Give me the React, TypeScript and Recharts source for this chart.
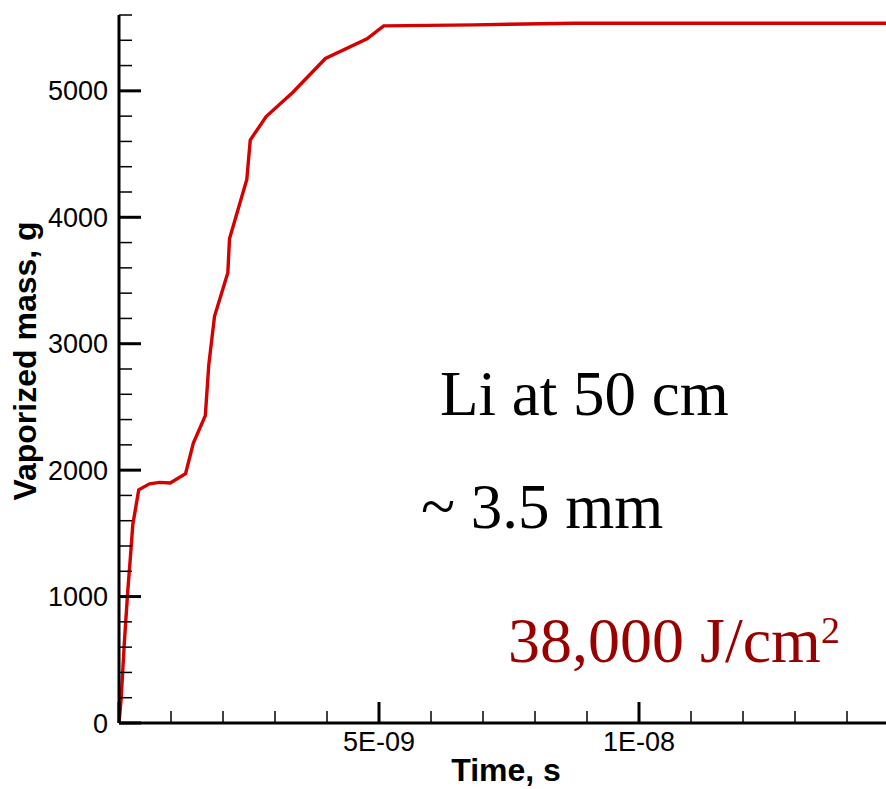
import { LineChart, Line, XAxis, YAxis } from "recharts";

// time (s) and vaporized mass (g)
const timeS = [
  0, 4e-11, 1.06e-10, 1.7e-10, 2.2e-10, 2.65e-10, 3.8e-10, 5.87e-10, 7.8e-10,
  9.85e-10, 1.28e-9, 1.43e-9, 1.66e-9, 1.727e-9, 1.837e-9, 2.093e-9, 2.125e-9,
  2.458e-9, 2.524e-9, 2.83e-9, 3.34e-9, 3.97e-9, 4.77e-9, 5.09e-9, 6.84e-9,
  8.76e-9, 1.149e-8, 1.475e-8,
];
const massG = [
  0, 182, 657, 1053, 1314, 1568, 1845, 1892, 1903, 1898, 1972, 2215, 2431,
  2835, 3217, 3561, 3830, 4299, 4611, 4797, 4987, 5256, 5411, 5514, 5522, 5535,
  5535, 5535,
];

const xTicks = [
  0, 1e-9, 2e-9, 3e-9, 4e-9, 5e-9, 6e-9, 7e-9, 8e-9, 9e-9, 1e-8, 1.1e-8,
  1.2e-8, 1.3e-8, 1.4e-8,
];
const xMajorTicks = [0, 5e-9, 1e-8];
const xMajorLabels = ["", "5E-09", "1E-08"];

const yTicks = [
  0, 200, 400, 600, 800, 1000, 1200, 1400, 1600, 1800, 2000, 2200, 2400, 2600,
  2800, 3000, 3200, 3400, 3600, 3800, 4000, 4200, 4400, 4600, 4800, 5000, 5200,
  5400, 5600,
];
const yMajorTicks = [0, 1000, 2000, 3000, 4000, 5000];
const yMajorLabels = ["0", "1000", "2000", "3000", "4000", "5000"];

const data = timeS.map((t, i) => ({ t, m: massG[i] }));

const sans = '"Liberation Sans", Arial, sans-serif';
const serif = '"Liberation Serif", "Times New Roman", serif';

const XTick = (props: any) => {
  const { x, y, payload } = props;
  const idx = xMajorTicks.findIndex((v) => Math.abs(v - payload.value) < 1e-13);
  const major = idx >= 0;
  return (
    <g>
      <line
        x1={x}
        x2={x}
        y1={y}
        y2={y - (major ? 21 : 12)}
        stroke="#000"
        strokeWidth={major ? 3 : 1.5}
      />
      {major && xMajorLabels[idx] && (
        <text x={x} y={y + 28} textAnchor="middle" fontFamily={sans} fontSize={27} fill="#000">
          {xMajorLabels[idx]}
        </text>
      )}
    </g>
  );
};

const YTick = (props: any) => {
  const { x, y, payload } = props;
  const idx = yMajorTicks.indexOf(payload.value);
  const major = idx >= 0;
  return (
    <g>
      <line
        x1={x}
        x2={x + (major ? 22 : 13)}
        y1={y}
        y2={y}
        stroke="#000"
        strokeWidth={major ? 3 : 1.5}
      />
      {major && (
        <text x={x - 11} y={y + 9.5} textAnchor="end" fontFamily={sans} fontSize={27} fill="#000">
          {yMajorLabels[idx]}
        </text>
      )}
    </g>
  );
};

export default function App() {
  return (
    <div style={{ position: "absolute", left: 0, top: 0, width: 886, height: 789, background: "#fff" }}>
      <LineChart width={886} height={789} data={data} margin={{ top: 15, right: 0, bottom: 0, left: 0 }}>
        <XAxis
          dataKey="t"
          type="number"
          domain={[0, 1.475e-8]}
          allowDataOverflow
          ticks={xTicks}
          interval={0}
          height={66}
          tickSize={0}
          tickMargin={0}
          axisLine={{ stroke: "#000", strokeWidth: 3 }}
          tickLine={false}
          tick={<XTick />}
        />
        <YAxis
          type="number"
          domain={[0, 5600]}
          allowDataOverflow
          ticks={yTicks}
          interval={0}
          width={119}
          tickSize={0}
          tickMargin={0}
          axisLine={{ stroke: "#000", strokeWidth: 3 }}
          tickLine={false}
          tick={<YTick />}
        />
        <Line
          type="linear"
          dataKey="m"
          stroke="#d50000"
          strokeWidth={3.4}
          dot={false}
          isAnimationActive={false}
        />
      </LineChart>
      <svg width={886} height={789} style={{ position: "absolute", left: 0, top: 0, pointerEvents: "none" }}>
        <text x={506} y={781} textAnchor="middle" fontFamily={sans} fontWeight="bold" fontSize={32} fill="#000">
          Time, s
        </text>
        <text
          x={36}
          y={361}
          transform="rotate(-90, 36, 361)"
          textAnchor="middle"
          fontFamily={sans}
          fontWeight="bold"
          fontSize={32}
          fill="#000"
        >
          Vaporized mass, g
        </text>
        <text x={440} y={415} fontFamily={serif} fontSize={63} fill="#000">
          Li at 50 cm
        </text>
        <text x={421} y={528} fontFamily={serif} fontSize={63} fill="#000">
          ~ 3.5 mm
        </text>
        <text x={508} y={662} fontFamily={serif} fontSize={64} fill="#990000">
          38,000 J/cm
          <tspan fontSize={38} dy={-19}>
            2
          </tspan>
        </text>
      </svg>
    </div>
  );
}
